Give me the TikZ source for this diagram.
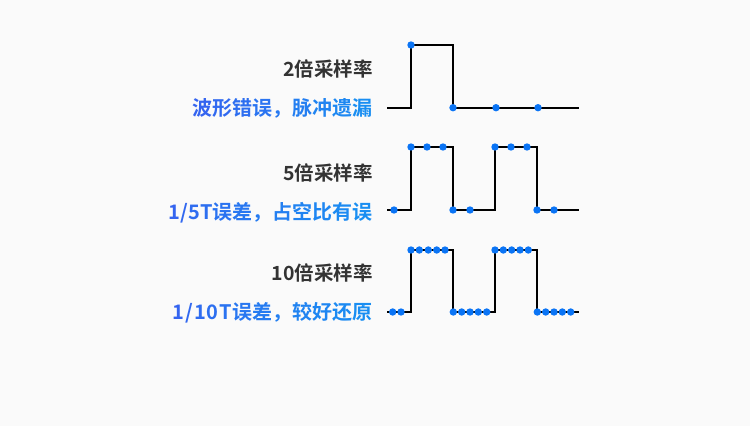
\documentclass[tikz,border=0pt]{standalone}
\usepackage{fontspec}
\newfontfamily\cjk{Noto Sans CJK SC}[BoldFont={Noto Sans CJK SC Bold}]
\definecolor{bg}{HTML}{FAFAFA}
\definecolor{title}{HTML}{333333}
\definecolor{blueL}{RGB}{52,100,240}
\definecolor{blueR}{RGB}{25,142,242}
\definecolor{dotc}{HTML}{0A74F5}
\newcommand\gc[2]{{\color{blueR!#1!blueL}#2}}
\tikzset{
  wave/.style={line width=2.1pt, black, line join=miter},
  sdot/.style={fill=dotc, draw=none},
  ttl/.style={anchor=base east, inner sep=0pt, text=title, font=\cjk\bfseries\fontsize{19.5}{20}\selectfont},
  sub/.style={anchor=base east, inner sep=0pt, font=\cjk\bfseries\fontsize{20}{21}\selectfont},
}
\begin{document}
\begin{tikzpicture}[x=1pt,y=-1pt]
\useasboundingbox[fill=bg] (0,0) rectangle (750,426);
% row 1
\node[ttl] (t1) at (373,76) {2倍采样率};
\node[sub] (s1) at (373,115) {\gc{0}{波}\gc{12}{形}\gc{25}{错}\gc{37}{误}\gc{50}{，}\gc{62}{脉}\gc{75}{冲}\gc{87}{遗}\gc{100}{漏}};
\draw[wave] (387,107.7) -- (411,107.7) -- (411,45) -- (453,45) -- (453,107.7) -- (579,107.7);
\foreach \p in {(411,45),(453,107.7),(496,107.7),(538,107.7)} \fill[sdot] \p circle (3.7);
% row 2
\node[ttl] (t2) at (373,180.5) {5倍采样率};
\node[sub] (s2) at (373,219) {\gc{0}{1}\gc{9}{/}\gc{18}{5}\gc{27}{T}\gc{36}{误}\gc{45}{差}\gc{55}{，}\gc{64}{占}\gc{73}{空}\gc{82}{比}\gc{91}{有}\gc{100}{误}};
\draw[wave] (387,210) -- (411,210) -- (411,147) -- (453,147) -- (453,210) -- (495,210) -- (495,147) -- (537,147) -- (537,210) -- (579,210);
\foreach \x in {394,453,470,537,554} \fill[sdot] (\x,210) circle (3.7);
\foreach \x in {411,427,443,495,511,527} \fill[sdot] (\x,147) circle (3.7);
% row 3
\node[ttl] (t3) at (373,280.5) {10倍采样率};
\node[sub] (s3) at (373,319) {\gc{0}{1}\kern0.9pt\gc{9}{/}\kern0.9pt\gc{18}{1}\kern0.9pt\gc{27}{0}\kern0.9pt\gc{36}{T}\kern0.9pt\gc{45}{误}\gc{55}{差}\gc{64}{，}\gc{73}{较}\gc{82}{好}\gc{91}{还}\gc{100}{原}};
\draw[wave] (387,312) -- (411,312) -- (411,250) -- (453,250) -- (453,312) -- (495,312) -- (495,250) -- (537,250) -- (537,312) -- (579,312);
\foreach \x in {392.7,401,453.3,461.7,470,478.3,486.7,537.3,545.7,554,562.3,570.7} \fill[sdot] (\x,312) circle (3.7);
\foreach \x in {411,419.3,428.3,436.7,445,495,503.3,511.7,520,528.3} \fill[sdot] (\x,250) circle (3.7);
\end{tikzpicture}
\end{document}
